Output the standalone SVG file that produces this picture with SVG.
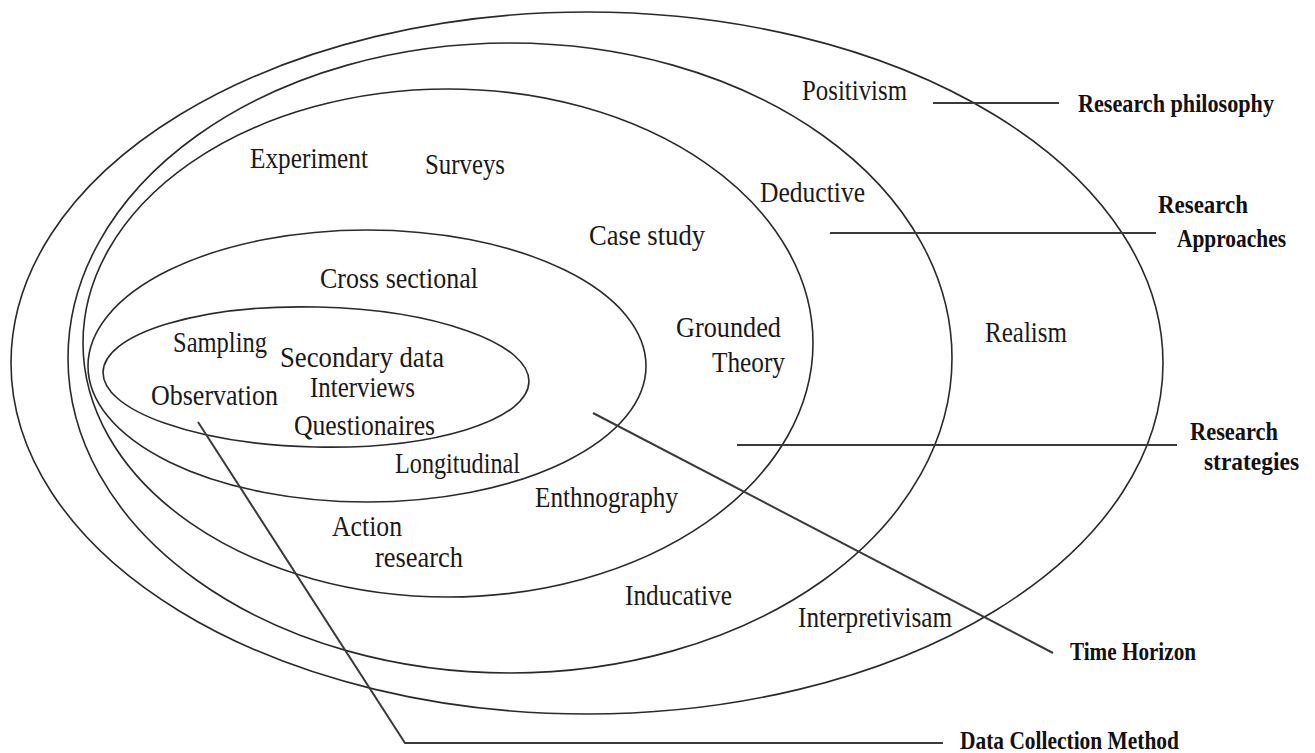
<svg xmlns="http://www.w3.org/2000/svg" width="1315" height="753" viewBox="0 0 1315 753">
<style>
.ring{fill:none;stroke:#2a2a2a;stroke-width:1.6}
.lead{fill:none;stroke:#3a3a3a;stroke-width:2}
.t{font-family:"Liberation Serif","Times New Roman",serif;font-size:30px;fill:#1a1a1a}
.b{font-family:"Liberation Serif","Times New Roman",serif;font-size:25px;font-weight:bold;fill:#111}
</style>
<rect width="1315" height="753" fill="#fff"/>
<g id="layer-philosophy">
<ellipse class="ring" cx="587" cy="363" rx="576" ry="351"/>
<text class="t" x="802" y="100" textLength="105" lengthAdjust="spacingAndGlyphs">Positivism</text>
<text class="t" x="985" y="342" textLength="82" lengthAdjust="spacingAndGlyphs">Realism</text>
<text class="t" x="798" y="627" textLength="154" lengthAdjust="spacingAndGlyphs">Interpretivisam</text>
</g>
<g id="layer-approaches">
<ellipse class="ring" cx="510" cy="358" rx="442" ry="315"/>
<text class="t" x="760" y="202" textLength="105" lengthAdjust="spacingAndGlyphs">Deductive</text>
<text class="t" x="625" y="605" textLength="107" lengthAdjust="spacingAndGlyphs">Inducative</text>
</g>
<g id="layer-strategies">
<ellipse class="ring" cx="448" cy="343" rx="365" ry="254"/>
<text class="t" x="250" y="168" textLength="118" lengthAdjust="spacingAndGlyphs">Experiment</text>
<text class="t" x="425" y="174" textLength="80" lengthAdjust="spacingAndGlyphs">Surveys</text>
<text class="t" x="589" y="245" textLength="116" lengthAdjust="spacingAndGlyphs">Case study</text>
<text class="t" x="676" y="337" textLength="105" lengthAdjust="spacingAndGlyphs">Grounded</text>
<text class="t" x="712" y="372" textLength="73" lengthAdjust="spacingAndGlyphs">Theory</text>
<text class="t" x="535" y="507" textLength="143" lengthAdjust="spacingAndGlyphs">Enthnography</text>
<text class="t" x="332" y="536" textLength="70" lengthAdjust="spacingAndGlyphs">Action</text>
<text class="t" x="375" y="567" textLength="88" lengthAdjust="spacingAndGlyphs">research</text>
</g>
<g id="layer-time-horizon">
<ellipse class="ring" cx="367" cy="366" rx="279" ry="136"/>
<text class="t" x="320" y="288" textLength="158" lengthAdjust="spacingAndGlyphs">Cross sectional</text>
<text class="t" x="395" y="473" textLength="125" lengthAdjust="spacingAndGlyphs">Longitudinal</text>
</g>
<g id="layer-data-collection">
<ellipse class="ring" cx="316" cy="377" rx="213" ry="70" transform="rotate(1.3 316 377)"/>
<text class="t" x="173" y="352" textLength="94" lengthAdjust="spacingAndGlyphs">Sampling</text>
<text class="t" x="280" y="367" textLength="164" lengthAdjust="spacingAndGlyphs">Secondary data</text>
<text class="t" x="310" y="397" textLength="105" lengthAdjust="spacingAndGlyphs">Interviews</text>
<text class="t" x="151" y="405" textLength="127" lengthAdjust="spacingAndGlyphs">Observation</text>
<text class="t" x="294" y="435" textLength="141" lengthAdjust="spacingAndGlyphs">Questionaires</text>
</g>
<g id="connectors">
<line class="lead" x1="933" y1="103" x2="1059" y2="103"/>
<line class="lead" x1="830" y1="233" x2="1156" y2="233"/>
<line class="lead" x1="737" y1="445" x2="1177" y2="445"/>
<line class="lead" x1="593" y1="413" x2="1053" y2="653"/>
<polyline class="lead" points="198,422 405,743 943,743"/>
</g>
<g id="legend-labels">
<text class="b" x="1078" y="112" textLength="196" lengthAdjust="spacingAndGlyphs">Research philosophy</text>
<text class="b" x="1158" y="213" textLength="90" lengthAdjust="spacingAndGlyphs">Research</text>
<text class="b" x="1177" y="247" textLength="109" lengthAdjust="spacingAndGlyphs">Approaches</text>
<text class="b" x="1190" y="440" textLength="88" lengthAdjust="spacingAndGlyphs">Research</text>
<text class="b" x="1204" y="470" textLength="95" lengthAdjust="spacingAndGlyphs">strategies</text>
<text class="b" x="1070" y="660" textLength="126" lengthAdjust="spacingAndGlyphs">Time Horizon</text>
<text class="b" x="960" y="749" textLength="219" lengthAdjust="spacingAndGlyphs">Data Collection Method</text>
</g>
</svg>
